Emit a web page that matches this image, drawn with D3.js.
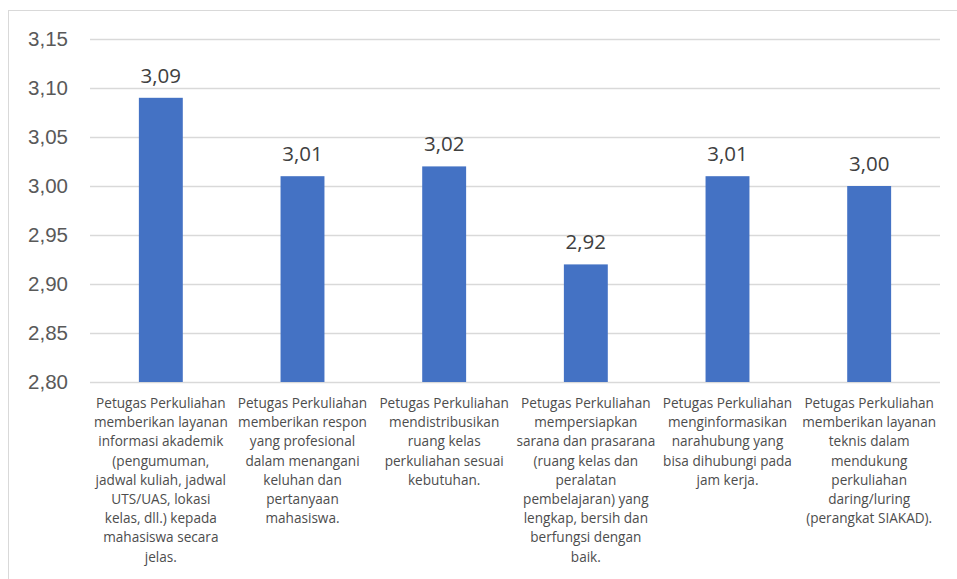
<!DOCTYPE html>
<html>
<head>
<meta charset="utf-8">
<script src="https://cdn.jsdelivr.net/npm/d3@7"></script>
<style>
  body { margin: 0; background: #fff; }
  svg { display: block; font-family: "Open Sans", "Noto Sans", sans-serif; }
</style>
</head>
<body>
<script>
// Data
const categories = [
  "Petugas Perkuliahan\nmemberikan layanan\ninformasi akademik\n(pengumuman,\njadwal kuliah, jadwal\nUTS/UAS, lokasi\nkelas, dll.) kepada\nmahasiswa secara\njelas.",
  "Petugas Perkuliahan\nmemberikan respon\nyang profesional\ndalam menangani\nkeluhan dan\npertanyaan\nmahasiswa.",
  "Petugas Perkuliahan\nmendistribusikan\nruang kelas\nperkuliahan sesuai\nkebutuhan.",
  "Petugas Perkuliahan\nmempersiapkan\nsarana dan prasarana\n(ruang kelas dan\nperalatan\npembelajaran) yang\nlengkap, bersih dan\nberfungsi dengan\nbaik.",
  "Petugas Perkuliahan\nmenginformasikan\nnarahubung yang\nbisa dihubungi pada\njam kerja.",
  "Petugas Perkuliahan\nmemberikan layanan\nteknis dalam\nmendukung\nperkuliahan\ndaring/luring\n(perangkat SIAKAD)."
];
const values = [3.09, 3.01, 3.02, 2.92, 3.01, 3.00];
const yTicks = [2.80, 2.85, 2.90, 2.95, 3.00, 3.05, 3.10, 3.15];

const width = 957, height = 579;
const margin = { top: 39, right: 17, bottom: 197, left: 90 };
const fmt = v => v.toFixed(2).replace(".", ",");

const svg = d3.select("body").append("svg")
  .attr("width", width)
  .attr("height", height);

// chart border (top and left visible)
svg.append("rect")
  .attr("x", 8.5).attr("y", 10.5)
  .attr("width", 960).attr("height", 600)
  .attr("fill", "none")
  .attr("stroke", "#d9d9d9");

const x = d3.scaleBand()
  .domain(d3.range(categories.length))
  .range([margin.left, width - margin.right])
  .paddingInner(0.69)
  .paddingOuter(0.345);

const y = d3.scaleLinear()
  .domain([2.80, 3.15])
  .range([height - margin.bottom, margin.top]);

// gridlines + y labels
const yAxis = svg.append("g")
  .attr("transform", `translate(${margin.left},0)`)
  .call(d3.axisLeft(y).tickValues(yTicks).tickFormat(fmt)
    .tickSize(-(width - margin.left - margin.right)).tickPadding(22));
yAxis.select(".domain").remove();
yAxis.selectAll(".tick line").attr("stroke", "#d9d9d9").attr("stroke-width", 1.3);
yAxis.selectAll(".tick text")
  .attr("fill", "#595959")
  .style("font-size", "20.5px");

// bars
svg.append("g").selectAll("rect")
  .data(values)
  .join("rect")
  .attr("x", (d, i) => x(i))
  .attr("y", d => y(d))
  .attr("width", x.bandwidth())
  .attr("height", d => y(2.80) - y(d))
  .attr("fill", "#4472c4");

// data labels
svg.append("g").selectAll("text")
  .data(values)
  .join("text")
  .attr("x", (d, i) => x(i) + x.bandwidth() / 2)
  .attr("y", d => y(d) - 15)
  .attr("text-anchor", "middle")
  .attr("fill", "#404040")
  .style("font-size", "20.5px")
  .text(fmt);

// category labels
svg.append("g").selectAll("text")
  .data(categories)
  .join("text")
  .attr("text-anchor", "middle")
  .attr("fill", "#4d4d4d")
  .style("font-size", "13.6px")
  .each(function(d, i) {
    const cx = x(i) + x.bandwidth() / 2;
    d3.select(this).selectAll("tspan")
      .data(d.split("\n"))
      .join("tspan")
      .attr("x", cx)
      .attr("y", (line, j) => y(2.80) + 26 + j * 19.2)
      .text(line => line);
  });
</script>
</body>
</html>
